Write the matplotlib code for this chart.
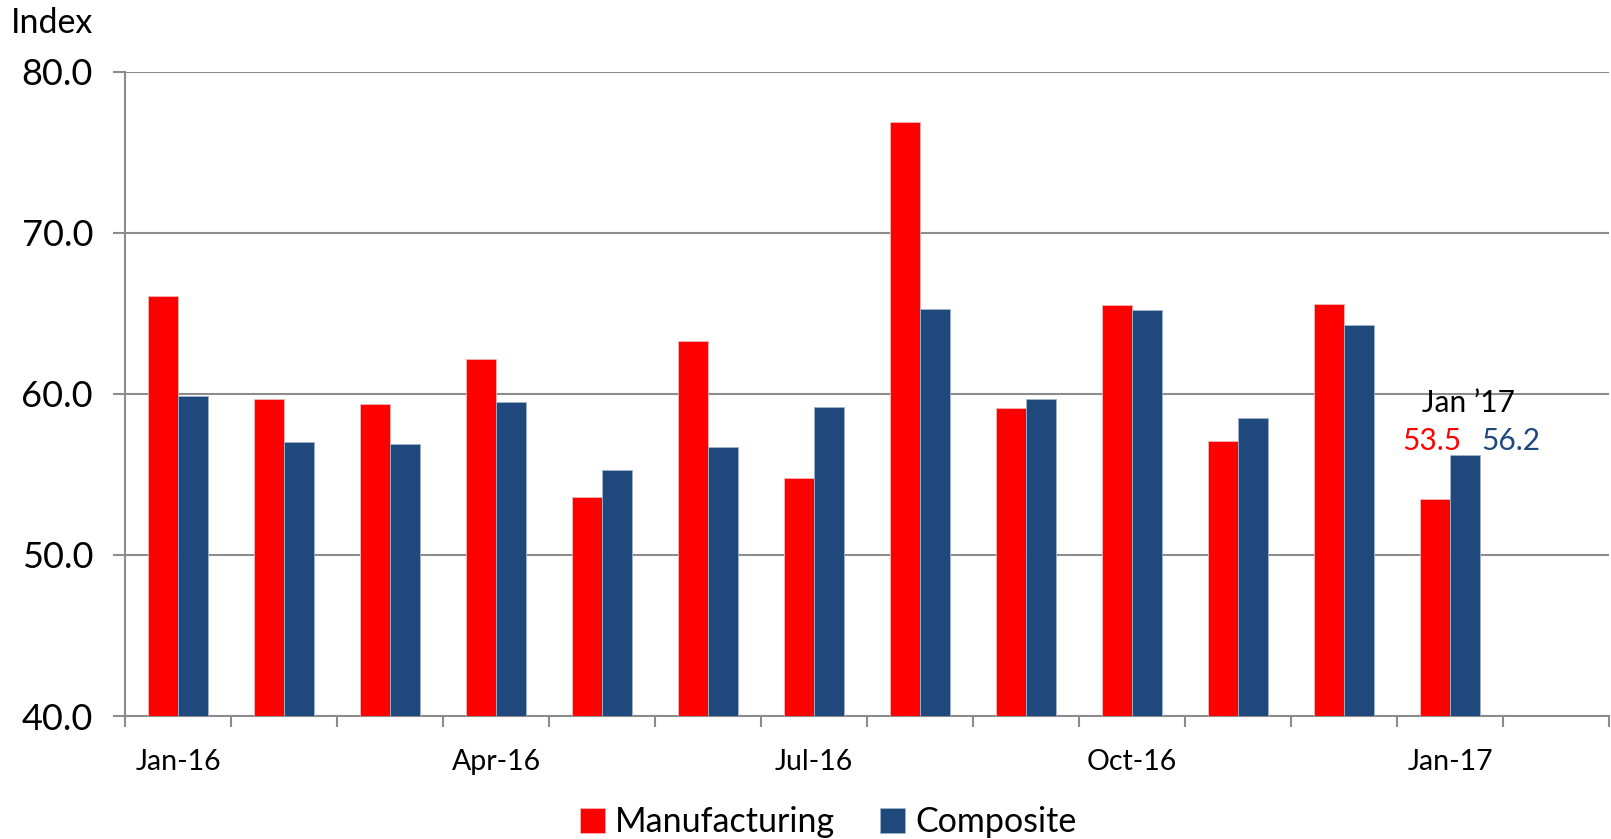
import matplotlib
matplotlib.use("Agg")
import matplotlib.pyplot as plt
import numpy as np

# Monthly index values, Jan-16 .. Jan-17
months = ["Jan-16", "Feb-16", "Mar-16", "Apr-16", "May-16", "Jun-16", "Jul-16",
          "Aug-16", "Sep-16", "Oct-16", "Nov-16", "Dec-16", "Jan-17"]
manufacturing = [66.1, 59.7, 59.4, 62.2, 53.6, 63.3, 54.8, 76.9, 59.1, 65.5, 57.1, 65.6, 53.5]
composite = [59.9, 57.0, 56.9, 59.5, 55.3, 56.7, 59.2, 65.3, 59.7, 65.2, 58.5, 64.3, 56.2]
shown_labels = ["Jan-16", "Apr-16", "Jul-16", "Oct-16", "Jan-17"]
n_slots = 14

RED = "#FF0000"
BLUE = "#1F497D"
GRID = "#8C8C8C"

plt.rcParams['font.family'] = ['Lato', 'DejaVu Sans']

fig = plt.figure(figsize=(16.11, 8.39), dpi=100)
ax = fig.add_axes([0.0776, 0.1466, 0.9212, 0.7676])

x = np.arange(len(months)) + 0.5
w = 0.283
ax.bar(x - w / 2, manufacturing, w, color=RED, edgecolor="#F2B4B4", linewidth=0.6,
       label="Manufacturing", zorder=3)
ax.bar(x + w / 2, composite, w, color=BLUE, edgecolor="#9FB3CC", linewidth=0.6,
       label="Composite", zorder=3)

ax.set_xlim(0, n_slots)
ax.set_ylim(40, 80)
ax.set_yticks([40, 50, 60, 70, 80])
ax.set_yticklabels([f"{v:.1f}" for v in [40, 50, 60, 70, 80]], fontsize=26)
ax.yaxis.grid(True, color=GRID, linewidth=1.5, zorder=0)
ax.tick_params(axis="y", length=9, width=1.5, color=GRID, pad=14)

# boundaries get tick marks, month centres get the labels
ax.set_xticks(np.arange(n_slots + 1))
ax.set_xticklabels([])
ax.tick_params(axis="x", which="major", length=8, width=1.5, color=GRID)
ax.set_xticks([months.index(m) + 0.5 for m in shown_labels], minor=True)
ax.set_xticklabels(shown_labels, minor=True, fontsize=20.5)
ax.tick_params(axis="x", which="minor", length=0, pad=24)

for s in ["top", "right"]:
    ax.spines[s].set_visible(False)
for s in ["left", "bottom"]:
    ax.spines[s].set_color(GRID)
    ax.spines[s].set_linewidth(1.5)

# last-month callout
last = len(months) - 1
ax.text(last + 0.67, 59.45, "Jan \u201917", fontsize=21.5, ha="center", va="center")
ax.text(last + 0.33, 57.1, f"{manufacturing[last]:.1f}", fontsize=21.5, color=RED,
        ha="center", va="center")
ax.text(last + 1.07, 57.1, f"{composite[last]:.1f}", fontsize=21.5, color=BLUE,
        ha="center", va="center")

fig.text(0.007, 0.972, "Index", fontsize=24.5, ha="left", va="center")

fig.legend(loc="center", bbox_to_anchor=(0.514, 0.02), ncol=2, frameon=False,
           fontsize=24.5, handlelength=0.75, handleheight=0.75, handletextpad=0.3,
           columnspacing=1.3)

fig.savefig("out.png", dpi=100)
